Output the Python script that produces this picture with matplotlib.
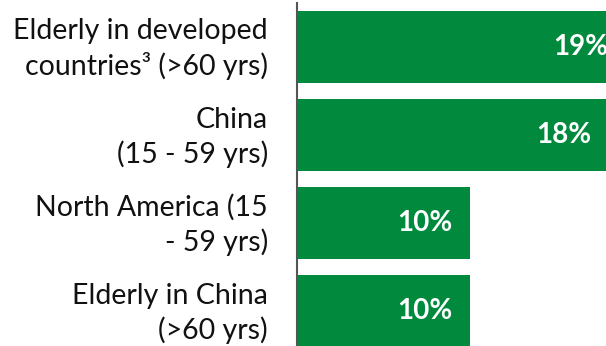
import matplotlib.pyplot as plt
import matplotlib.transforms as mtransforms

# Share of population, per group
groups = [
    "Elderly in developed\ncountries³ (>60 yrs)",
    "China\n(15 - 59 yrs)",
    "North America (15\n- 59 yrs)",
    "Elderly in China\n(>60 yrs)",
]
shares = [19, 18, 10, 10]
share_labels = ["19%", "18%", "10%", "10%"]

green = "#018A3E"

plt.rcParams["font.family"] = ["Lato", "DejaVu Sans"]

fig = plt.figure(figsize=(6.06, 3.46), dpi=100)
ax = fig.add_axes([297 / 606, 0, 309 / 606, 343 / 346])

pos = list(range(len(groups)))
ax.barh(pos, shares, height=0.82, color=green)

for y, v, lab in zip(pos, shares, share_labels):
    ax.text(v - 1.0, y, lab, ha="right", va="center", color="white",
            fontsize=20, fontweight="bold")

ax.set_xlim(0, 17.86)
ax.set_ylim(3.398, -0.5)
ax.set_yticks(pos)
ax.set_yticklabels(groups, fontsize=20.5, color="#111111", linespacing=1.32)
ax.tick_params(axis="y", length=0, pad=21)
ax.set_xticks([])

# nudge the category labels up a few pixels
lift = mtransforms.ScaledTranslation(0, 4 / 100, fig.dpi_scale_trans)
for t in ax.get_yticklabels():
    t.set_transform(t.get_transform() + lift)

for s in ["top", "right", "bottom"]:
    ax.spines[s].set_visible(False)
ax.spines["left"].set_color("#555555")
ax.spines["left"].set_linewidth(1.5)

fig.savefig("out.png", dpi=100)
